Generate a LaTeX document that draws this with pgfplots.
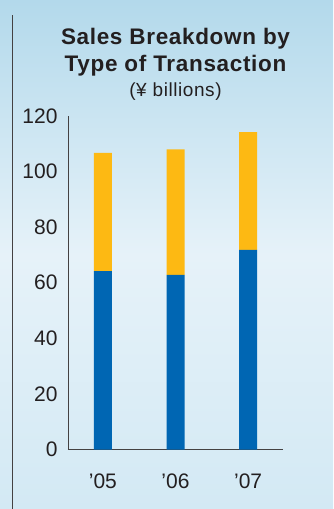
\documentclass[border=0pt]{standalone}
\usepackage{fontspec}
\setmainfont{Liberation Sans}
\newfontfamily\titlefont[LetterSpace=3]{Liberation Sans}
\usepackage{pgfplots}
\pgfplotsset{compat=1.18}
\definecolor{barblue}{HTML}{0066B3}
\definecolor{baryellow}{HTML}{FDB913}
\definecolor{txt}{HTML}{231F20}
\definecolor{skytop}{HTML}{B3D9EB}
\definecolor{skymid}{HTML}{E6F2F9}
\definecolor{skybot}{HTML}{D3E9F4}
\begin{document}
\begin{tikzpicture}[x=1pt,y=1pt]
\shade[top color=skytop, bottom color=skybot, middle color=skymid] (0,0) rectangle (333,509);
\useasboundingbox (0,0) rectangle (333,509);
\draw[txt!85, line width=0.9pt] (12,0) -- (12,494);
\node[txt, font=\titlefont\fontsize{22.5}{26.7}\selectfont\bfseries, align=center, anchor=base] at (175.5,437.3) {Sales Breakdown by\\Type of Transaction};
\node[txt, font=\titlefont\fontsize{19}{20}\selectfont, anchor=base] at (175.5,412.3) {(¥ billions)};
\begin{axis}[
  at={(68pt,59.5pt)}, anchor=south west,
  scale only axis, width=215pt, height=333.5pt,
  xmin=-0.48, xmax=2.48, ymin=0, ymax=120,
  axis x line=bottom, axis y line=left,
  axis line style={-, txt!85, line width=0.9pt},
  major tick length=0pt,
  ytick={0,20,...,120},
  xtick={0,1,2}, xticklabels={’05,’06,’07},
  /pgf/number format/assume math mode=true,
  tick label style={font=\fontsize{21}{21}\selectfont, text=txt},
  yticklabel style={anchor=east, xshift=-7pt},
  xticklabel style={anchor=north, yshift=-21pt},
  ybar stacked, bar width=18pt,
  clip=false,
]
\addplot[fill=barblue, draw=none] coordinates {(0,64.2) (1,62.8) (2,71.8)};
\addplot[fill=baryellow, draw=none] coordinates {(0,42.5) (1,45.2) (2,42.4)};
\end{axis}
\end{tikzpicture}
\end{document}
